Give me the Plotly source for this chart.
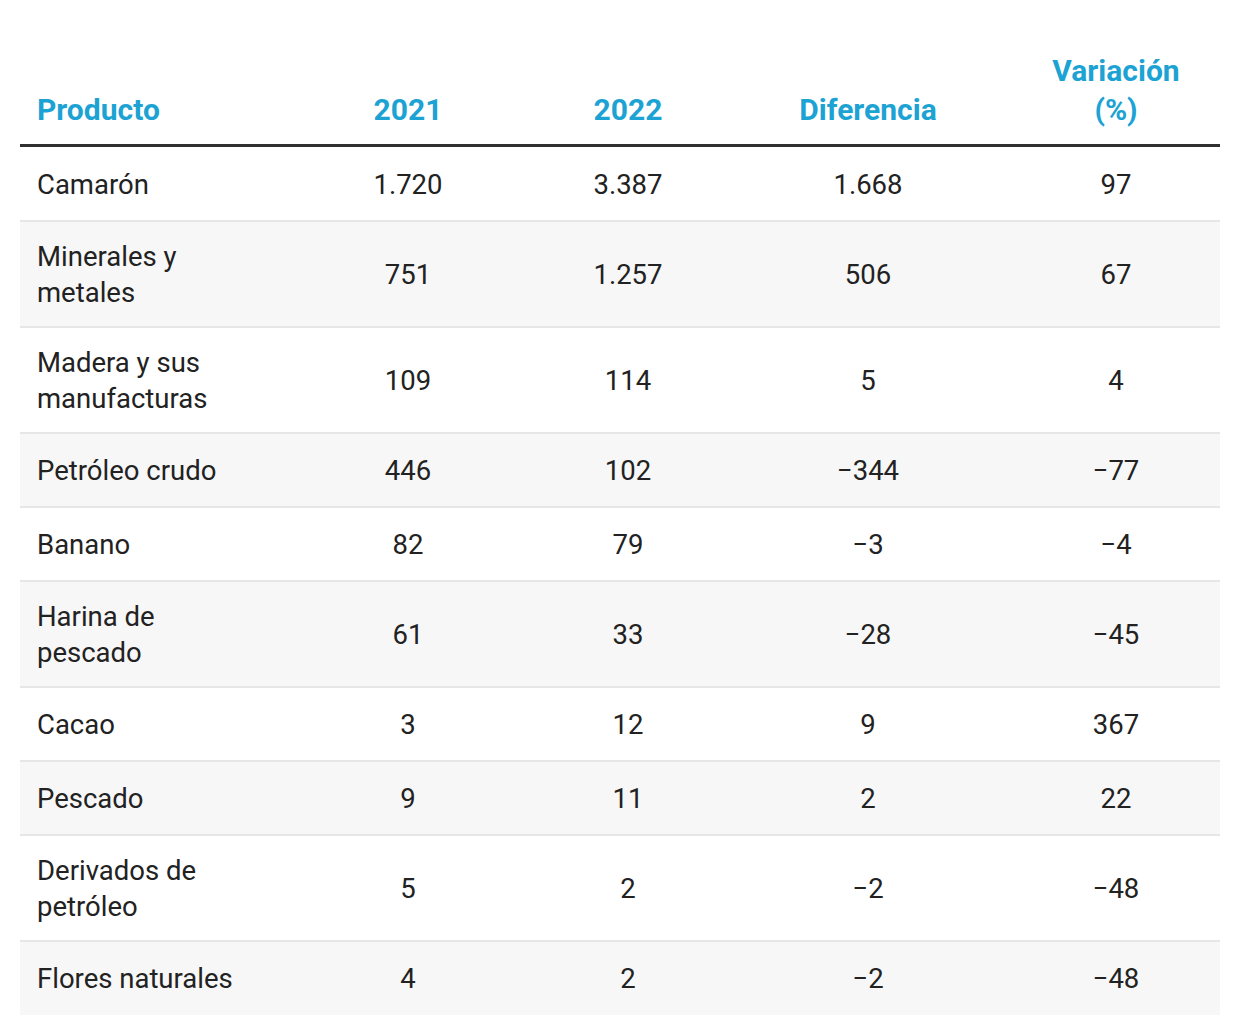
import plotly.graph_objects as go

# ---------------- data ----------------
productos = [
    "Camarón",
    "Minerales y<br>metales",
    "Madera y sus<br>manufacturas",
    "Petróleo crudo",
    "Banano",
    "Harina de<br>pescado",
    "Cacao",
    "Pescado",
    "Derivados de<br>petróleo",
    "Flores naturales",
]
v2021 = [1720, 751, 109, 446, 82, 61, 3, 9, 5, 4]
v2022 = [3387, 1257, 114, 102, 79, 33, 12, 11, 2, 2]
diferencia = [1668, 506, 5, -344, -3, -28, 9, 2, -2, -2]
variacion = [97, 67, 4, -77, -4, -45, 367, 22, -48, -48]
encabezados = ["Producto", "2021", "2022", "Diferencia", "Variación<br>(%)"]

# ---------------- style ----------------
W, H = 1240, 1034
FONT = "Roboto"
HEAD_COLOR = "#1ca3d3"
TEXT_COLOR = "#222222"
HEAD_SIZE = 30
BODY_SIZE = 27.5
TABLE_LEFT = 20
COL_WIDTHS = [264, 248, 192, 288, 208]
PAD_LEFT = 17
HEAD_BASELINE = 120
RULE_Y = 145.5
BODY_TOP = 147
ROW_H1 = 74
ROW_EXTRA = 32
FILLS = ["#ffffff", "#f7f7f7"]
SEP_COLOR = "#e6e6e6"


def fmt(v):
    return f"{v:,}".replace(",", ".").replace("-", "\u2212")


# column geometry
edges = [TABLE_LEFT]
for w in COL_WIDTHS:
    edges.append(edges[-1] + w)
TABLE_RIGHT = edges[-1]
col_x = [TABLE_LEFT + PAD_LEFT] + [(edges[i] + edges[i + 1]) / 2 for i in range(1, 5)]

# row geometry from number of lines in each product label
tops, heights = [], []
y = BODY_TOP
for p in productos:
    n = p.count("<br>") + 1
    h = ROW_H1 + ROW_EXTRA * (n - 1)
    tops.append(y)
    heights.append(h)
    y += h
centers = [t + h / 2 + 0.1 * BODY_SIZE for t, h in zip(tops, heights)]

columns = [
    productos,
    [fmt(v) for v in v2021],
    [fmt(v) for v in v2022],
    [fmt(v) for v in diferencia],
    [fmt(v) for v in variacion],
]

fig = go.Figure()

# header texts
head_y = HEAD_BASELINE + 0.25 * HEAD_SIZE
for i, label in enumerate(encabezados):
    fig.add_trace(go.Scatter(
        x=[col_x[i]], y=[head_y], mode="text", text=[label],
        textposition="top right" if i == 0 else "top center",
        textfont=dict(family=FONT, size=HEAD_SIZE, color=HEAD_COLOR, weight="bold"),
        hoverinfo="skip", showlegend=False,
    ))

# body texts
for i, col in enumerate(columns):
    fig.add_trace(go.Scatter(
        x=[col_x[i]] * len(col), y=centers, mode="text", text=col,
        textposition="middle right" if i == 0 else "middle center",
        textfont=dict(family=FONT, size=BODY_SIZE, color=TEXT_COLOR),
        hoverinfo="skip", showlegend=False,
    ))

shapes = []
for k, (t, h) in enumerate(zip(tops, heights)):
    shapes.append(dict(type="rect", xref="x", yref="y", x0=TABLE_LEFT, x1=TABLE_RIGHT,
                       y0=t, y1=t + h, fillcolor=FILLS[k % 2], line=dict(width=0), layer="below"))
for k, (t, h) in enumerate(zip(tops, heights)):
    if k < len(tops) - 1:
        shapes.append(dict(type="line", xref="x", yref="y", x0=TABLE_LEFT, x1=TABLE_RIGHT,
                           y0=t + h, y1=t + h, line=dict(color=SEP_COLOR, width=2), layer="below"))
shapes.append(dict(type="line", xref="x", yref="y", x0=TABLE_LEFT, x1=TABLE_RIGHT,
                   y0=RULE_Y, y1=RULE_Y, line=dict(color="#303030", width=3), layer="below"))

fig.update_layout(
    width=W, height=H,
    margin=dict(l=0, r=0, t=0, b=0),
    paper_bgcolor="white", plot_bgcolor="white",
    xaxis=dict(range=[0, W], visible=False, fixedrange=True),
    yaxis=dict(range=[H, 0], visible=False, fixedrange=True),
    shapes=shapes,
    showlegend=False,
)

fig.write_html("out.html", config={"displayModeBar": False},
               post_script="document.body.style.margin='0';document.body.style.overflow='hidden';")
